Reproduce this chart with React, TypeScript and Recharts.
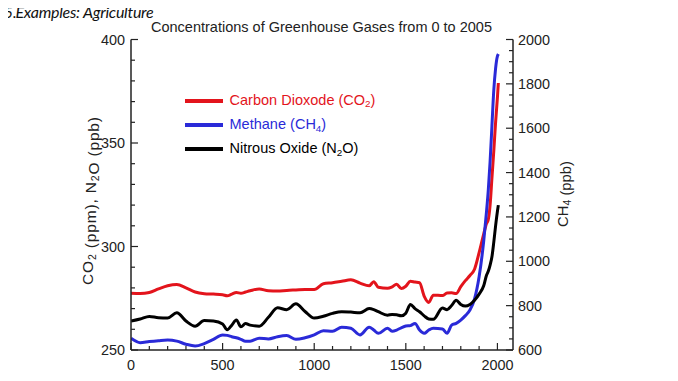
import React from 'react';
import { ComposedChart, Line, XAxis, YAxis, Legend } from 'recharts';

const years = [0,50,100,150,200,250,300,350,400,450,500,525,550,575,600,625,650,700,750,800,850,900,950,1000,1050,1100,1150,1200,1250,1300,1325,1350,1400,1425,1450,1475,1500,1525,1550,1575,1600,1625,1650,1700,1725,1750,1775,1800,1825,1850,1875,1900,1925,1940,1950,1960,1970,1980,1990,2000,2005];

const co2 = [277.4,277.3,277.8,279.5,281,281.6,280,278,277.2,277,276.7,276.2,277,277.8,277.4,278,278.6,279.5,278.6,278.5,278.8,279,279.2,279.2,282,282.5,283.2,283.9,282.3,281,283,280.3,279.8,280.5,281.8,279.7,280.8,283.2,282.8,282.5,276,273,276.5,276.3,277.5,277.6,277.3,280.6,283.5,286,289,297,306,311,313,320,333,346,360,372,379];

const n2o = [264,265,266.2,265.6,265.5,268,264,261.5,264.2,264,262.6,259.8,262,264.5,261.2,262.8,262,261.5,265.8,270.4,269.5,272.3,268.6,265.4,266.3,267.7,268.5,268.3,268,270,269.5,268.5,266.8,267.2,267,266.5,267.8,272,270,268.5,266.5,265,264.8,270.3,269.5,271.5,274,272,271.2,272,274,277,281,286,288,291,295,302,310,317,320];

const ch4 = [653,633,638,642,645,640,626,618,629,648,668,666,660,655,648,640,640,653,650,660,665,648,655,668,687,685,703,698,668,703,690,675,698,685,690,700,708,710,720,690,675,690,698,695,675,712,720,735,755,780,830,930,1090,1220,1320,1450,1610,1770,1870,1925,1935];

const seriesNames = ['Carbon Dioxode (CO₂)', 'Methane (CH₄)', 'Nitrous Oxide (N₂O)'];
const seriesColors = ['#e3141c', '#2a2ad8', '#000000'];

const xTicks = [0,100,200,300,400,500,600,700,800,900,1000,1100,1200,1300,1400,1500,1600,1700,1800,1900,2000];
const xMajor = [0,500,1000,1500,2000];
const leftTicks = [250,260,270,280,290,300,310,320,330,340,350,360,370,380,390,400];
const leftMajor = [250,300,350,400];
const rightTicks = [600,650,700,750,800,850,900,950,1000,1050,1100,1150,1200,1250,1300,1350,1400,1450,1500,1550,1600,1650,1700,1750,1800,1850,1900,1950,2000];
const rightMajor = [600,800,1000,1200,1400,1600,1800,2000];

const data = years.map((year, i) => ({ year, co2: co2[i], ch4: ch4[i], n2o: n2o[i] }));

const AX = '#222';
const FONT = '"Liberation Sans", Arial, sans-serif';
const MAJ = 7;
const MIN = 4;

const SUBS: Record<string, string> = { '₂': '2', '₄': '4' };

function svgParts(s: string, subSize: number) {
  const out: any[] = [];
  let buf = '';
  let k = 0;
  for (const ch of Array.from(s)) {
    if (SUBS[ch]) {
      if (buf) out.push(<tspan key={k++}>{buf}</tspan>);
      buf = '';
      out.push(<tspan key={k++} fontSize={subSize} dy={3}>{SUBS[ch]}</tspan>);
      out.push(<tspan key={k++} dy={-3}>{''}</tspan>);
    } else buf += ch;
  }
  if (buf) out.push(<tspan key={k++}>{buf}</tspan>);
  return out;
}

function htmlParts(s: string) {
  return Array.from(s).map((ch, i) =>
    SUBS[ch] ? (
      <span key={i} style={{ fontSize: '0.68em', position: 'relative', top: '0.28em' }}>{SUBS[ch]}</span>
    ) : (
      <span key={i}>{ch}</span>
    )
  );
}

const BottomTick = (p: any) => {
  const { x, y, payload } = p;
  const major = xMajor.includes(payload.value);
  return (
    <g>
      <line x1={x} x2={x} y1={y} y2={y - (major ? MAJ : MIN)} stroke={AX} strokeWidth={1.2} />
      {major && (
        <text x={x} y={y + 15} dy="0.35em" textAnchor="middle" fontFamily={FONT} fontSize={14.4} fill={AX}>
          {payload.value}
        </text>
      )}
    </g>
  );
};

const TopTick = (p: any) => {
  const { x, y, payload } = p;
  const major = xMajor.includes(payload.value);
  return <line x1={x} x2={x} y1={y} y2={y + (major ? MAJ : MIN)} stroke={AX} strokeWidth={1.2} />;
};

const LeftTick = (p: any) => {
  const { x, y, payload } = p;
  const major = leftMajor.includes(payload.value);
  return (
    <g>
      <line x1={x} x2={x + (major ? MAJ : MIN)} y1={y} y2={y} stroke={AX} strokeWidth={1.2} />
      {major && (
        <text x={x - 6} y={y} dy="0.35em" textAnchor="end" fontFamily={FONT} fontSize={14.4} fill={AX}>
          {payload.value}
        </text>
      )}
    </g>
  );
};

const RightTick = (p: any) => {
  const { x, y, payload } = p;
  const major = rightMajor.includes(payload.value);
  return (
    <g>
      <line x1={x} x2={x - (major ? MAJ : MIN)} y1={y} y2={y} stroke={AX} strokeWidth={1.2} />
      {major && (
        <text x={x + 5} y={y} dy="0.35em" textAnchor="start" fontFamily={FONT} fontSize={14.4} fill={AX}>
          {payload.value}
        </text>
      )}
    </g>
  );
};

const renderLegend = (props: any) => {
  const payload = props.payload || [];
  return (
    <div style={{ display: 'flex', flexDirection: 'column', alignItems: 'flex-start' }}>
      {payload.map((e: any) => (
        <div key={e.value} style={{ display: 'flex', alignItems: 'center', height: 24.3 }}>
          <div style={{ width: 38, height: 4, background: e.color }} />
          <span style={{ marginLeft: 6.5, color: e.color, fontFamily: FONT, fontSize: 14.5, lineHeight: '16px', whiteSpace: 'nowrap' }}>
            {htmlParts(e.value)}
          </span>
        </div>
      ))}
    </div>
  );
};

const headStyle: React.CSSProperties = {
  position: 'absolute',
  top: -8,
  height: 24,
  lineHeight: '24px',
  whiteSpace: 'nowrap',
  fontFamily: 'Lato, "Open Sans", sans-serif',
  fontStyle: 'italic',
  fontSize: 16,
  color: '#111',
  pointerEvents: 'none',
};

export default function App() {
  const axisLine = { stroke: AX, strokeWidth: 1.5 };
  return (
    <div style={{ position: 'relative', width: 670, height: 373 }}>
      <ComposedChart width={670} height={373} data={data} margin={{ top: 31.5, right: 105, bottom: 0, left: 0 }}>
        <XAxis
          dataKey="year"
          type="number"
          domain={[0, 2085]}
          allowDataOverflow
          ticks={xTicks}
          interval={0}
          tickSize={0}
          tickMargin={0}
          tickLine={false}
          axisLine={axisLine}
          tick={(p: any) => <BottomTick {...p} />}
          height={31}
        />
        <XAxis
          xAxisId="top"
          orientation="top"
          dataKey="year"
          type="number"
          domain={[0, 2085]}
          allowDataOverflow
          ticks={xTicks}
          interval={0}
          tickSize={0}
          tickMargin={0}
          tickLine={false}
          axisLine={axisLine}
          tick={(p: any) => <TopTick {...p} />}
          height={0}
        />
        <YAxis
          yAxisId="left"
          type="number"
          domain={[250, 400]}
          allowDataOverflow
          ticks={leftTicks}
          interval={0}
          tickSize={0}
          tickMargin={0}
          tickLine={false}
          axisLine={axisLine}
          tick={(p: any) => <LeftTick {...p} />}
          width={123}
        />
        <YAxis
          yAxisId="right"
          orientation="right"
          type="number"
          domain={[600, 2000]}
          allowDataOverflow
          ticks={rightTicks}
          interval={0}
          tickSize={0}
          tickMargin={0}
          tickLine={false}
          axisLine={axisLine}
          tick={(p: any) => <RightTick {...p} />}
          width={60}
        />
        <Legend
          layout="vertical"
          align="center"
          verticalAlign="middle"
          content={renderLegend}
          wrapperStyle={{ left: 177, top: 80.5, width: 'auto', height: 'auto' }}
        />
        <Line yAxisId="left" type="monotone" dataKey="co2" name={seriesNames[0]} stroke={seriesColors[0]} strokeWidth={3} dot={false} isAnimationActive={false} />
        <Line yAxisId="right" type="monotone" dataKey="ch4" name={seriesNames[1]} stroke={seriesColors[1]} strokeWidth={3} dot={false} isAnimationActive={false} />
        <Line yAxisId="left" type="monotone" dataKey="n2o" name={seriesNames[2]} stroke={seriesColors[2]} strokeWidth={3} dot={false} isAnimationActive={false} />
      </ComposedChart>
      <div style={{ ...headStyle, left: -4, fontSize: 15.5 }}>5.</div>
      <div style={{ ...headStyle, left: 7.5, letterSpacing: '-0.25px' }}>Examples: Agriculture</div>
      <svg width={670} height={373} style={{ position: 'absolute', left: 0, top: 0, overflow: 'visible', pointerEvents: 'none' }}>
        <text x={313.5} y={23.5} textAnchor="middle" fontFamily={FONT} fontSize={14.5} fill={AX}>Concentrations of Greenhouse Gases from 0 to 2005</text>
        <text transform="translate(80,193) rotate(-90)" textAnchor="middle" dy="0.35em" fontFamily={FONT} fontSize={15.5} fill={AX} textLength={168} lengthAdjust="spacing">
          {svgParts('CO₂ (ppm), N₂O (ppb)', 10.5)}
        </text>
        <text transform="translate(555,186) rotate(-90)" textAnchor="middle" dy="0.35em" fontFamily={FONT} fontSize={14.8} fill={AX}>
          {svgParts('CH₄ (ppb)', 10.5)}
        </text>
      </svg>
    </div>
  );
}
